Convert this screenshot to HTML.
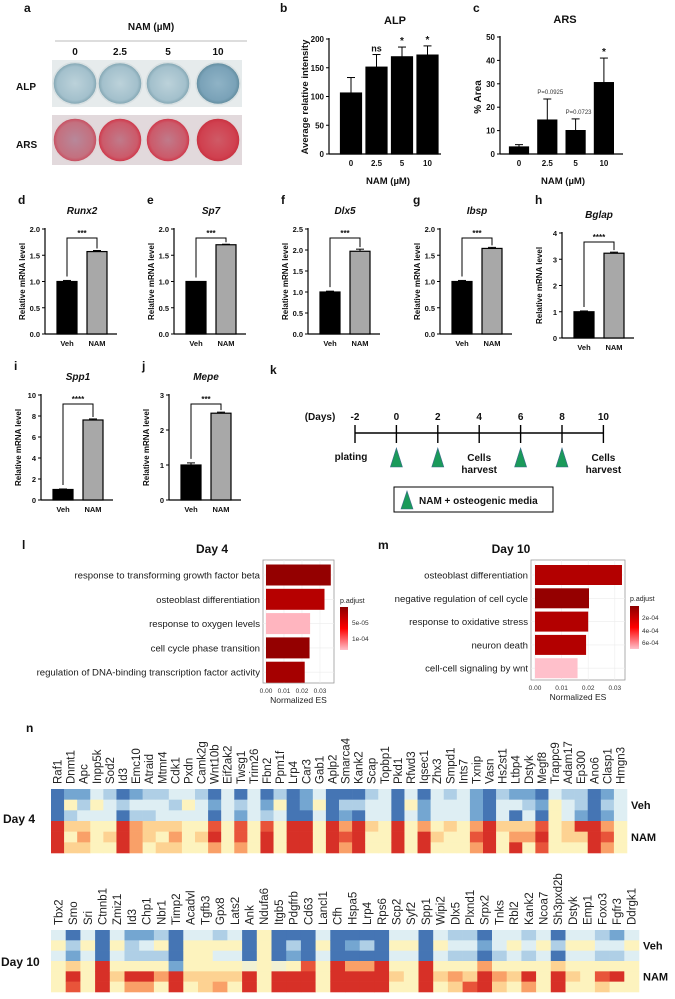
<!DOCTYPE html>
<html><head><meta charset="utf-8"><style>
html,body{margin:0;padding:0;background:#fff;}
svg{display:block;font-family:"Liberation Sans",Arial,sans-serif;}
</style></head><body>
<svg id="fig" width="675" height="999" viewBox="0 0 675 999" xmlns="http://www.w3.org/2000/svg">
<defs>
<radialGradient id="alpWell" cx="50%" cy="50%" r="50%"><stop offset="0" stop-color="#bcd2da"/><stop offset="0.8" stop-color="#a3c0cc"/><stop offset="1" stop-color="#7fa3b0"/></radialGradient>
<radialGradient id="alpWell4" cx="50%" cy="50%" r="50%"><stop offset="0" stop-color="#8fb3c6"/><stop offset="0.8" stop-color="#7aa2b8"/><stop offset="1" stop-color="#5f8a9c"/></radialGradient>
<radialGradient id="arsWell" cx="50%" cy="50%" r="50%"><stop offset="0" stop-color="#b7889a"/><stop offset="0.8" stop-color="#c4707f"/><stop offset="1" stop-color="#c94a5c"/></radialGradient>
<radialGradient id="arsWell2" cx="50%" cy="50%" r="50%"><stop offset="0" stop-color="#c07a8a"/><stop offset="0.8" stop-color="#cc5a6a"/><stop offset="1" stop-color="#d03245"/></radialGradient>
<radialGradient id="arsWell4" cx="50%" cy="50%" r="50%"><stop offset="0" stop-color="#cf5a66"/><stop offset="0.8" stop-color="#d0404f"/><stop offset="1" stop-color="#c8303f"/></radialGradient>
<linearGradient id="lBar" x1="0" y1="0" x2="0" y2="1"><stop offset="0" stop-color="#8b0000"/><stop offset="0.5" stop-color="#ff0000"/><stop offset="1" stop-color="#ffc0cb"/></linearGradient>
</defs>
<rect x="0" y="0" width="675" height="999" fill="#fff"/>
</svg>
<script>
// ---------- DATA ----------
const alpCats = ['0','2.5','5','10'];
const alpMeans = [106,151,169,172];
const alpErrs = [27,22,17,16];
const alpTicks = [0,50,100,150,200];
const alpSig = ['','ns','*','*'];
const arsCats = ['0','2.5','5','10'];
const arsMeans = [3,14.5,10,30.5];
const arsErrs = [1,9,5,10.5];
const arsTicks = [0,10,20,30,40,50];
const arsSig = ['','P=0.0925','P=0.0723','*'];
const qGenes = ['Runx2','Sp7','Dlx5','Ibsp','Bglap','Spp1','Mepe'];
const qLetters = ['d','e','f','g','h','i','j'];
const qVeh = [1.0,1.0,1.0,1.0,1.0,1.0,1.0];
const qNam = [1.57,1.70,1.97,1.63,3.23,7.62,2.48];
const qVehErr = [0.02,0.0,0.02,0.02,0.03,0.05,0.06];
const qNamErr = [0.02,0.01,0.05,0.02,0.04,0.1,0.03];
const qMax = [2.0,2.0,2.5,2.0,4,10,3];
const qStars = ['***','***','***','***','****','****','***'];
const qTicksA = ['0.0','0.5','1.0','1.5','2.0'];
const qTicksF = ['0.0','0.5','1.0','1.5','2.0','2.5'];
const qTicksH = ['0','1','2','3','4'];
const qTicksI = ['0','2','4','6','8','10'];
const qTicksJ = ['0','1','2','3'];
const lTerms = ['response to transforming growth factor beta','osteoblast differentiation','response to oxygen levels','cell cycle phase transition','regulation of DNA-binding transcription factor activity'];
const lNES = [0.036,0.0325,0.0245,0.0242,0.0215];
const lPadj = [0.5e-5,2.5e-5,1.3e-4,0.5e-5,1.5e-5];
const mTerms = ['osteoblast differentiation','negative regulation of cell cycle','response to oxidative stress','neuron death','cell-cell signaling by wnt'];
const mNES = [0.0327,0.0203,0.0200,0.0192,0.0160];
const mPadj = [1.2e-4,0.3e-4,1.2e-4,1.2e-4,7e-4];
const days = ['-2','0','2','4','6','8','10'];
const treatDays = ['0','2','6','8'];
const harvestDays = ['4','10'];
const d4Genes = ['Raf1','Dnmt1','Apc','Inpp5k','Sod2','Id3','Emc10','Atraid','Mtmr4','Cdk1','Pxdn','Camk2g','Wnt10b','Eif2ak2','Twsg1','Trim26','Fbn2','Ppm1f','Lrp4','Car3','Gab1','Aplp2','Smarca4','Kank2','Scap','Topbp1','Pkd1','Rfwd3','Iqsec1','Zhx3','Smpd1','Ints7','Txnip','Vasn','Hs2st1','Ltbp4','Dstyk','Megf8','Trappc9','Adam17','Ep300','Ano6','Clasp1','Hmgn3'];
const d4Z = [
[-2,-2,-2,2,2,2],[-1.4,0,-0.9,0.6,0,0.6],[-1.4,-0.9,-0.5,0.6,1.1,0.6],[-0.5,0,-0.5,0,0,0],[-0.9,-0.5,-0.5,0,0.6,0],
[-2,-0.9,-2,2,2,2],[-1.4,-0.5,-0.9,1.1,1.1,1.1],[-0.9,-0.5,-0.9,0.6,0.6,0],[-0.9,-0.5,-0.5,0.6,0,0.6],[-0.5,-0.9,-0.5,0.6,1.1,0.6],
[-0.5,0,-0.5,0,0,0],[-0.9,-0.5,-0.5,0,0.6,0],[-2,-1.4,-2,1.5,2,1.1],[-0.5,-0.5,-0.5,0,0,0],[-2,-0.9,-1.4,1.5,1.5,1.1],
[-0.5,-0.5,-0.5,0,0,0],[-2,-1.4,-0.9,1.5,2,2],[-0.9,0,-0.5,0,0,0],[-2,-2,-2,2,2,2],[-1.4,-1.4,-2,2,2,2],
[-0.5,0,-0.5,0,0,0],[-2,-2,-2,2,2,2],[-2,-0.9,-1.4,1.1,1.5,1.1],[-2,-0.9,-2,2,2,2],[-0.9,-0.5,-0.5,0.6,0,0],
[-0.5,-0.5,-0.5,0,0,0],[-2,-2,-2,2,2,2],[-0.5,0,-0.5,0,0,0],[-2,-1.4,-1.4,1.1,2,2],[-0.5,-0.5,-0.5,0,0.6,0],
[-0.9,-0.5,-0.5,0.6,0,0],[-0.5,-0.5,-0.5,0,0,0],[-1.4,-1.4,-1.4,1.1,1.5,1.1],[-2,-2,-2,2,2,2],[-0.9,-0.5,-0.5,0.6,0,0],
[-1.4,-0.5,-2,0.6,1.1,2],[-1.4,-0.9,-0.5,0.6,1.1,0],[-2,-1.4,-2,1.5,2,1.5],[-0.5,0,0,0,0,0],[-0.9,-0.5,-0.5,0.6,0.6,0],
[-0.9,-0.9,-1.4,2,0.6,0],[-2,-2,-2,2,2,2],[-1.4,-0.9,-1.4,1.1,1.5,1.1],[-0.5,-0.5,-0.5,0,0,0]];
const d10Genes = ['Tbx2','Smo','Sri','Ctnnb1','Zmiz1','Id3','Chp1','Nbr1','Timp2','Acadvl','Tgfb3','Gpx8','Lats2','Ank','Ndufa6','Itgb5','Pdgfrb','Cd63','Lancl1','Cfh','Hspa5','Lrp4','Rps6','Scp2','Syf2','Spp1','Wipi2','Dlx5','Plxnd1','Srpx2','Tnks','Rbl2','Kank2','Ncoa7','Sh3pxd2b','Dstyk','Emp1','Foxo3','Fgfr3','Ddrgk1'];
const d10Z = [
[-0.5,0,-0.5,0,0,0],[-2,-0.9,-1.4,0.6,2,1.5],[-0.5,0,-0.5,0,0,0],[-2,-2,-2,2,2,2],[-0.5,0,-0.5,0,0.6,0],
[-1.4,-0.9,-0.9,0,2,1.1],[-1.4,-0.5,-0.9,0,2,1.1],[-0.9,0,-0.9,0,1.1,0],[-2,-2,-2,-1.4,2,2],[-0.5,0,0,0,0.6,0],
[-0.5,0,0,0,0.6,0.6],[-0.9,0,-0.5,0,0.6,1.1],[-0.5,0,-0.5,0,0.6,0],[-2,-2,-2,-0.2,2,2],[0,0,0,0,0,0],
[-2,-2,-2,-0.2,2,2],[-2,-0.9,-1.4,0,2,2],[-2,-2,-2,1.5,2,2],[-0.5,0,-0.5,0,0,0],[-2,-2,-2,2,2,2],
[-2,-1.4,-2,1.1,2,2],[-2,-0.9,-2,1.1,2,2],[-2,-2,-2,2,2,2],[-0.5,0,-0.5,0,0.6,0],[-0.5,0,-0.5,0,0,0],
[-2,-2,-2,2,2,2],[-0.5,0,-0.5,0,0.6,0],[-0.9,-0.5,-0.9,0,1.1,0.6],[-0.9,-0.5,-0.9,0,0.6,1.5],[-2,-1.4,-2,1.1,2,2],
[-0.5,-0.5,-0.9,0,1.1,0.6],[-0.5,0,-0.5,0,0.6,0],[-0.9,-0.5,-0.9,0,2,1.1],[-0.5,0,-0.5,0,0,0],[-2,-0.9,-2,0.6,2,2],
[-0.5,0,-0.5,0,0.6,0],[-0.5,0,-0.5,0,0,0],[-0.9,-0.5,-0.9,0,1.5,0.6],[-1.4,-0.5,-0.9,0,2,0],[-0.5,0,-0.5,0,0,0]];

// ---------- HELPERS ----------
const NS='http://www.w3.org/2000/svg';
const svg=document.getElementById('fig');
function mk(tag,attrs,name){const el=document.createElementNS(NS,tag);for(const k in attrs)el.setAttribute(k,attrs[k]);


svg.appendChild(el);return el;}
function txt(str,x,y,opts,name){const el=mk('text',Object.assign({x:x,y:y,fill:'#111'},opts||{}),name);el.textContent=str;return el;}
const B={'font-weight':'bold'};
function o(a,b){return Object.assign({},a,b);}

// ---------- PANEL A (photos) ----------
txt('a',24,12,o(B,{'font-size':'12'}),'panel-a-label');
txt('NAM (µM)',151,30,o(B,{'font-size':'10','text-anchor':'middle'}),'panel-a-nam-title');
mk('line',{x1:55,y1:41,x2:247,y2:41,stroke:'#bbb','stroke-width':1},'panel-a-divider');
const wellX=[75,120,168,218];
alpCats.forEach((c,i)=>{txt(c,wellX[i],55,o(B,{'font-size':'10','text-anchor':'middle'}),'dose-label-'+c);});
mk('rect',{x:52,y:60,width:190,height:47,fill:'#e6ebec'},'alp-plate');
mk('rect',{x:52,y:115,width:190,height:50,fill:'#e2d9dc'},'ars-plate');
wellX.forEach((x,i)=>{
  mk('ellipse',{cx:x,cy:83.5,rx:22,ry:21,fill:i==3?'url(#alpWell4)':'url(#alpWell)',stroke:'#d8e0e2','stroke-width':1.5},'alp-well-'+i);
  mk('ellipse',{cx:x,cy:140,rx:22,ry:22,fill:i==0?'url(#arsWell)':(i==3?'url(#arsWell4)':'url(#arsWell2)'),stroke:'#e0d6d8','stroke-width':1.5},'ars-well-'+i);
});
txt('ALP',16,90,o(B,{'font-size':'10'}),'alp-row-label');
txt('ARS',16,148,o(B,{'font-size':'10'}),'ars-row-label');

// ---------- BAR CHART ----------
function barChart(c){
  const ys=v=>c.yBot-(v/c.max)*(c.yBot-c.yTop);
  mk('line',{x1:c.axisX,y1:c.yTop-1,x2:c.axisX,y2:c.yBot,stroke:'#000','stroke-width':1.2},c.name+'-y-axis');
  mk('line',{x1:c.axisX,y1:c.yBot,x2:c.axisEnd,y2:c.yBot,stroke:'#000','stroke-width':1.2},c.name+'-x-axis');
  c.tickLabels.forEach((t,i)=>{const v=parseFloat(t);const y=ys(v);
    mk('line',{x1:c.axisX-3,y1:y,x2:c.axisX,y2:y,stroke:'#000','stroke-width':1},c.name+'-tick');
    txt(t,c.axisX-5,y+3,o(B,{'font-size':c.fs||'8','text-anchor':'end'}),c.name+'-tick-label');});
  c.cats.forEach((cat,i)=>{const cx=c.barStart+i*c.barStep;const m=c.means[i];const yt=ys(m);
    mk('rect',{x:cx-c.barW/2,y:yt,width:c.barW,height:c.yBot-yt,fill:c.fills[i],stroke:'#000','stroke-width':1.2},c.name+'-bar-'+cat);
    const ye=ys(m+c.errs[i]);
    if(c.errs[i]>0){mk('line',{x1:cx,y1:yt,x2:cx,y2:ye,stroke:'#000','stroke-width':1},c.name+'-error-bar');
    mk('line',{x1:cx-4,y1:ye,x2:cx+4,y2:ye,stroke:'#000','stroke-width':1},c.name+'-error-cap');}
    txt(cat,cx,c.yBot+12,o(B,{'font-size':c.fs||'8','text-anchor':'middle'}),c.name+'-x-label');
    if(c.sig&&c.sig[i]){const s=c.sig[i];const isP=s.startsWith('P');
      txt(s,cx+(isP?3:0),ye-(isP?5:3),isP?{'font-size':'6','text-anchor':'middle',fill:'#333'}:o(B,{'font-size':s=='ns'?'9':'10','text-anchor':'middle'}),c.name+'-significance');}
  });
  return ys;
}
// Panel b
txt('b',280,12,o(B,{'font-size':'12'}),'panel-b-label');
txt('ALP',395,24,o(B,{'font-size':'11','text-anchor':'middle'}),'alp-chart-title');
barChart({name:'alp',axisX:329,yTop:39,yBot:154,axisEnd:441,max:200,tickLabels:alpTicks.map(String),cats:alpCats,means:alpMeans,errs:alpErrs,barStart:351,barStep:25.5,barW:21,fills:['#000','#000','#000','#000'],sig:alpSig});
txt('NAM (µM)',388,184,o(B,{'font-size':'9.5','text-anchor':'middle'}),'alp-x-title');
txt('Average relative intensity',0,0,o(B,{'font-size':'9.5','text-anchor':'middle',transform:'translate(308,97) rotate(-90)'}),'alp-y-title');
// Panel c
txt('c',473,12,o(B,{'font-size':'12'}),'panel-c-label');
txt('ARS',565,23,o(B,{'font-size':'11','text-anchor':'middle'}),'ars-chart-title');
barChart({name:'ars',axisX:500,yTop:37,yBot:154,axisEnd:623,max:50,tickLabels:arsTicks.map(String),cats:arsCats,means:arsMeans,errs:arsErrs,barStart:519,barStep:28.3,barW:19,fills:['#000','#000','#000','#000'],sig:arsSig});
txt('NAM (µM)',563,184,o(B,{'font-size':'9.5','text-anchor':'middle'}),'ars-x-title');
txt('% Area',0,0,o(B,{'font-size':'10','text-anchor':'middle',transform:'translate(481,97) rotate(-90)'}),'ars-y-title');

// ---------- qPCR panels ----------
const qLayout=[{ax:45,top:229,bot:334},{ax:174,top:229,bot:334},{ax:308,top:229,bot:334},{ax:440,top:229,bot:334},{ax:562,top:233,bot:338},{ax:41,top:395,bot:500},{ax:169,top:395,bot:500}];
const qTickSets=[qTicksA,qTicksA,qTicksF,qTicksA,qTicksH,qTicksI,qTicksJ];
qGenes.forEach((g,k)=>{
  const L=qLayout[k];
  const ys=barChart({name:g.toLowerCase(),axisX:L.ax,yTop:L.top,yBot:L.bot,axisEnd:L.ax+72,max:qMax[k],tickLabels:qTickSets[k],cats:['Veh','NAM'],means:[qVeh[k],qNam[k]],errs:[qVehErr[k],qNamErr[k]],barStart:L.ax+22,barStep:30,barW:20,fills:['#000','#a8a8a8'],fs:'7.5'});
  txt(qLetters[k],L.ax-27,L.top-25+(k==4?-4:0),o(B,{'font-size':'12'}),'panel-'+qLetters[k]+'-label');
  txt(g,L.ax+37,L.top-15,o(B,{'font-size':'10','font-style':'italic','text-anchor':'middle'}),g.toLowerCase()+'-title');
  txt('Relative mRNA level',0,0,o(B,{'font-size':'8','text-anchor':'middle',transform:'translate('+(L.ax-20)+','+((L.top+L.bot)/2)+') rotate(-90)'}),g.toLowerCase()+'-y-title');
  const by=L.top+9;const x1=L.ax+22,x2=L.ax+52;
  mk('polyline',{points:x1+','+(ys(qVeh[k]+qVehErr[k])-4)+' '+x1+','+by+' '+x2+','+by+' '+x2+','+(ys(qNam[k]+qNamErr[k])-2),fill:'none',stroke:'#000','stroke-width':1},g.toLowerCase()+'-significance-bracket');
  txt(qStars[k],(x1+x2)/2,by-2,o(B,{'font-size':'8','text-anchor':'middle'}),g.toLowerCase()+'-stars');
});

// ---------- Timeline k ----------
txt('k',270,374,o(B,{'font-size':'12'}),'panel-k-label');
const tlX=d=>355+(parseFloat(d)+2)*20.7;
txt('(Days)',320,420,o(B,{'font-size':'10','text-anchor':'middle'}),'timeline-days-label');
mk('line',{x1:tlX('-2'),y1:433,x2:tlX('10'),y2:433,stroke:'#000','stroke-width':1.6},'timeline-axis');
days.forEach(d=>{const x=tlX(d);
  mk('line',{x1:x,y1:425,x2:x,y2:443,stroke:'#000','stroke-width':1.4},'timeline-tick-'+d);
  txt(d,x,420,o(B,{'font-size':'10','text-anchor':'middle'}),'timeline-day-'+d);});
txt('plating',tlX('-2')-4,460,o(B,{'font-size':'10','text-anchor':'middle'}),'plating-label');
treatDays.forEach(d=>{const x=tlX(d);mk('polygon',{points:(x-6)+',467 '+x+',448 '+(x+6)+',467',fill:'#1a9a5a',stroke:'#3a6a8a','stroke-width':0.6},'treatment-marker-day-'+d);});
harvestDays.forEach(d=>{const x=tlX(d);
  txt('Cells',x,461,o(B,{'font-size':'10','text-anchor':'middle'}),'cells-harvest-label-'+d);
  txt('harvest',x,473,o(B,{'font-size':'10','text-anchor':'middle'}),'cells-harvest-label-'+d);});
mk('rect',{x:394,y:487,width:159,height:25,fill:'#fff',stroke:'#000','stroke-width':1},'timeline-legend-box');
mk('polygon',{points:'401,509 407,491 413,509',fill:'#1a9a5a',stroke:'#3a6a8a','stroke-width':0.6},'legend-treatment-marker');
txt('NAM + osteogenic media',419,504,o(B,{'font-size':'10'}),'legend-treatment-text');

// ---------- Enrichment plots ----------
function padjColor(p,pmax){let t=Math.min(1,Math.max(0,p/pmax));
  const a=[139,0,0],b=[255,0,0],c=[255,192,203];let r;
  if(t<0.5){const u=t/0.5;r=a.map((v,i)=>Math.round(v+(b[i]-v)*u));}else{const u=(t-0.5)/0.5;r=b.map((v,i)=>Math.round(v+(c[i]-v)*u));}
  return 'rgb('+r.join(',')+')';}
function enrich(c){
  mk('rect',{x:c.px,y:c.py,width:c.pw,height:c.ph,fill:'#fff',stroke:'#999','stroke-width':0.8},c.name+'-panel');
  const xs=v=>c.x0+v/0.01*c.unit;
  [0,0.01,0.02,0.03].forEach(t=>{mk('line',{x1:xs(t),y1:c.py,x2:xs(t),y2:c.py+c.ph,stroke:'#ececec','stroke-width':0.6},c.name+'-grid');
    txt(t.toFixed(2),xs(t),c.py+c.ph+10,{'font-size':'6.5','text-anchor':'middle',fill:'#333'},c.name+'-x-tick-label');});
  c.terms.forEach((t,i)=>{const y=c.rowY0+i*c.rowStep;
    mk('line',{x1:c.px,y1:y,x2:c.px+c.pw,y2:y,stroke:'#ececec','stroke-width':0.6},c.name+'-grid');
    mk('rect',{x:c.x0,y:y-c.barH/2,width:xs(c.nes[i])-c.x0,height:c.barH,fill:padjColor(c.padj[i],c.pmax)},c.name+'-bar');
    txt(t,c.px-3,y+3.5,{'font-size':'9.6','text-anchor':'end',fill:'#1a1a1a'},c.name+'-term-label');});
  txt('Normalized ES',c.px+c.pw/2,c.py+c.ph+20,{'font-size':'8.5','text-anchor':'middle',fill:'#222'},c.name+'-x-title');
}
txt('l',22,549,o(B,{'font-size':'12'}),'panel-l-label');
txt('Day 4',212,553,o(B,{'font-size':'12','text-anchor':'middle'}),'day4-enrichment-title');
enrich({name:'day4-enrichment',px:263,py:560,pw:71,ph:123,x0:266,unit:18,rowY0:575,rowStep:24.3,barH:21,terms:lTerms,nes:lNES,padj:lPadj,pmax:1.34e-4});
txt('p.adjust',340,603,{'font-size':'7',fill:'#222'},'day4-legend-title');
mk('rect',{x:340,y:607,width:8,height:43,fill:'url(#lBar)'},'day4-legend-colorbar');
txt('5e-05',352,625,{'font-size':'6.5',fill:'#333'},'day4-legend-label');
txt('1e-04',352,641,{'font-size':'6.5',fill:'#333'},'day4-legend-label');

txt('m',378,549,o(B,{'font-size':'12'}),'panel-m-label');
txt('Day 10',511,553,o(B,{'font-size':'12','text-anchor':'middle'}),'day10-enrichment-title');
enrich({name:'day10-enrichment',px:531,py:560,pw:94,ph:120,x0:535,unit:26.6,rowY0:575,rowStep:23.3,barH:20,terms:mTerms,nes:mNES,padj:mPadj,pmax:7e-4});
txt('p.adjust',630,601,{'font-size':'7',fill:'#222'},'day10-legend-title');
mk('rect',{x:630,y:606,width:9,height:43,fill:'url(#lBar)'},'day10-legend-colorbar');
txt('2e-04',642,620,{'font-size':'6.5',fill:'#333'},'day10-legend-label');
txt('4e-04',642,633,{'font-size':'6.5',fill:'#333'},'day10-legend-label');
txt('6e-04',642,645,{'font-size':'6.5',fill:'#333'},'day10-legend-label');

// ---------- Heatmaps ----------
const stops=[[-2,[69,117,180]],[-1.4,[116,166,209]],[-0.9,[175,207,230]],[-0.5,[222,238,243]],[0,[253,243,190]],[0.6,[253,210,146]],[1.1,[249,160,104]],[1.5,[232,84,58]],[2,[215,48,39]]];
function zColor(z){if(z<=stops[0][0])return 'rgb('+stops[0][1]+')';
  for(let i=1;i<stops.length;i++){if(z<=stops[i][0]){const a=stops[i-1],b=stops[i];const u=(z-a[0])/(b[0]-a[0]);
    return 'rgb('+a[1].map((v,k)=>Math.round(v+(b[1][k]-v)*u)).join(',')+')';}}
  return 'rgb('+stops[stops.length-1][1]+')';}
function heatmap(c){
  const cw=c.w/c.genes.length, rh=c.h/6;
  c.genes.forEach((g,j)=>{const x=c.x0+j*cw;
    c.z[j].forEach((v,r)=>{mk('rect',{x:x,y:c.y0+r*rh,width:cw+0.3,height:rh+0.3,fill:zColor(v)},c.name+'-cell-'+g);});
    txt(g,0,0,{'font-size':'11.5',fill:'#222',transform:'translate('+(x+cw/2+4)+','+(c.y0-5)+') rotate(-90)'},c.name+'-gene-label');});
  txt('Veh',c.x0+c.w+4,c.y0+c.h*0.25+4,o(B,{'font-size':'11'}),c.name+'-veh-label');
  txt('NAM',c.x0+c.w+4,c.y0+c.h*0.75+4,o(B,{'font-size':'11'}),c.name+'-nam-label');
}
txt('n',26,732,o(B,{'font-size':'12'}),'panel-n-label');
heatmap({name:'day4-heatmap',x0:51,y0:789,w:576,h:64,genes:d4Genes,z:d4Z});
txt('Day 4',3,823,o(B,{'font-size':'12'}),'day4-heatmap-label');
heatmap({name:'day10-heatmap',x0:51,y0:930,w:588,h:62,genes:d10Genes,z:d10Z});
txt('Day 10',1,966,o(B,{'font-size':'12'}),'day10-heatmap-label');
</script>
</body></html>
